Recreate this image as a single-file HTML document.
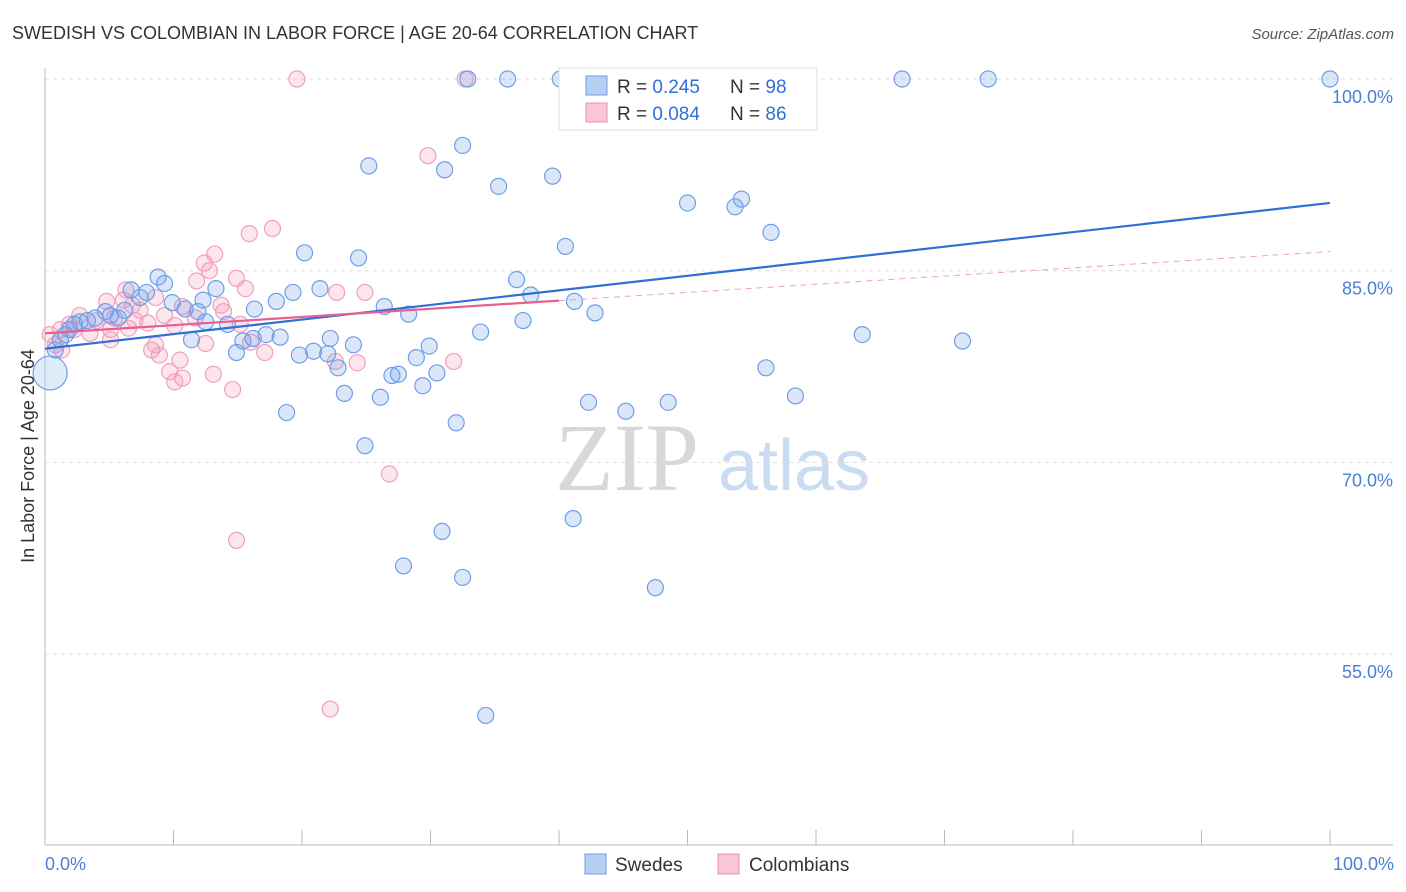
<!DOCTYPE html>
<html><head><meta charset="utf-8"><style>
body{margin:0;background:#fff;font-family:"Liberation Sans",sans-serif;}
svg{display:block}
</style></head><body>
<svg id="chart" width="1406" height="892">
<text x="12" y="39" font-size="18" fill="#333">SWEDISH VS COLOMBIAN IN LABOR FORCE | AGE 20-64 CORRELATION CHART</text>
<text x="1394" y="39" font-size="15" fill="#555" font-style="italic" text-anchor="end">Source: ZipAtlas.com</text>
<g>
<text x="555" y="490" font-size="96" font-family="Liberation Serif,serif" fill="#d8d8d8">ZIP</text>
<text x="718" y="490" font-size="72" fill="#c9dcf2">atlas</text>
</g>
<g id="grid"></g><g id="axes"></g><g id="marks"></g>
<text transform="translate(34,456) rotate(-90)" font-size="18" fill="#333" text-anchor="middle">In Labor Force | Age 20-64</text>
<text x="45" y="870" font-size="18" fill="#4a7fd4">0.0%</text>
<text x="1394" y="870" font-size="18" fill="#4a7fd4" text-anchor="end">100.0%</text>
<g>
<rect x="559" y="68" width="258" height="62" fill="#fff" stroke="#ddd"/>
<rect x="586" y="76" width="21" height="19" fill="#b7cff3" stroke="#6f9ee8"/>
<rect x="586" y="103" width="21" height="19" fill="#f9c6d6" stroke="#f08cb0"/>
<text x="617" y="93" font-size="19" fill="#333">R = <tspan fill="#2f6fd6">0.245</tspan></text>
<text x="730" y="93" font-size="19" fill="#333">N = <tspan fill="#2f6fd6">98</tspan></text>
<text x="617" y="120" font-size="19" fill="#333">R = <tspan fill="#2f6fd6">0.084</tspan></text>
<text x="730" y="120" font-size="19" fill="#333">N = <tspan fill="#2f6fd6">86</tspan></text>
</g>
<g>
<rect x="585" y="854" width="21" height="20" fill="#b7cff3" stroke="#6f9ee8"/>
<text x="615" y="871" font-size="19" fill="#333">Swedes</text>
<rect x="718" y="854" width="21" height="20" fill="#f9c6d6" stroke="#f08cb0"/>
<text x="749" y="871" font-size="19" fill="#333">Colombians</text>
</g>
</svg>
<script>
const yTicks=[100,85,70,55];
const yTickLabels=["100.0%","85.0%","70.0%","55.0%"];
const xTicks=[0,10,20,30,40,50,60,70,80,90,100];
const swedesX=[32.9,36.0,40.1,41.6,66.7,73.4,100,32.5,25.2,31.1,35.3,39.5,50.0,54.2,53.7,56.5,40.5,20.2,24.4,36.7,8.8,9.3,6.7,7.9,13.3,19.3,21.4,18.0,12.3,16.3,9.9,10.9,11.9,26.4,28.3,41.2,42.8,37.8,37.2,33.9,22.2,24.0,17.2,18.3,15.4,16.2,11.4,14.9,19.8,20.9,22.0,28.9,29.9,22.8,27.0,27.5,30.5,29.4,26.1,23.3,18.8,32.0,24.9,42.3,45.2,48.5,56.1,58.4,63.6,71.4,30.9,41.1,27.9,32.5,47.5,34.3,0.4,0.8,1.2,1.6,1.9,2.3,2.7,3.3,3.9,4.7,5.1,5.7,6.2,7.4,14.2,12.5];
const swedesY=[100,100,100,100,100,100,100,94.8,93.2,92.9,91.6,92.4,90.3,90.6,90.0,88.0,86.9,86.4,86.0,84.3,84.5,84.0,83.5,83.3,83.6,83.3,83.6,82.6,82.7,82.0,82.5,82.0,81.8,82.2,81.6,82.6,81.7,83.1,81.1,80.2,79.7,79.2,80.0,79.8,79.5,79.7,79.6,78.6,78.4,78.7,78.5,78.2,79.1,77.4,76.8,76.9,77.0,76.0,75.1,75.4,73.9,73.1,71.3,74.7,74.0,74.7,77.4,75.2,80.0,79.5,64.6,65.6,61.9,61.0,60.2,50.2,77.0,78.8,79.6,80.0,80.4,80.8,81.0,81.1,81.3,81.8,81.5,81.3,81.9,82.9,80.8,81.0];
const colX=[19.6,32.7,29.8,17.7,15.9,13.2,12.4,12.8,14.9,15.6,11.8,6.3,6.1,4.8,6.8,8.6,10.7,13.7,13.9,22.7,24.9,5.4,7.0,8.0,10.1,6.5,5.1,3.5,2.3,1.2,0.4,0.8,1.3,5.1,8.3,8.9,8.6,10.5,12.5,15.2,16.0,17.1,22.6,24.3,9.7,10.7,10.1,13.1,14.6,31.8,26.8,14.9,22.2,4.0,2.7,1.9,7.4,9.3,11.7];
const colY=[100,100,94.0,88.3,87.9,86.3,85.6,85.0,84.4,83.6,84.2,83.5,82.7,82.6,82.3,82.9,82.2,82.3,81.8,83.3,83.3,81.3,81.1,80.9,80.7,80.5,80.4,80.1,80.4,80.4,80.0,79.2,78.8,79.6,78.8,78.4,79.2,78.0,79.3,80.8,79.4,78.6,77.9,77.8,77.1,76.6,76.3,76.9,75.7,77.9,69.1,63.9,50.7,81.1,81.5,80.8,81.9,81.5,81.3];
const swedesTrend=[78.9,90.3];
const colTrend=[80.1,86.5];
const colSolidEnd=40;

const NS="http://www.w3.org/2000/svg";
function sx(v){return 45+v*12.85;}
function sy(v){return 79+(100-v)*12.78;}
function mk(tag,attrs,parent){const e=document.createElementNS(NS,tag);for(const k in attrs)e.setAttribute(k,attrs[k]);parent.appendChild(e);return e;}
const grid=document.getElementById('grid'),axes=document.getElementById('axes'),marks=document.getElementById('marks');
yTicks.forEach((t,i)=>{
  const l=mk('line',{x1:45,x2:1393,y1:sy(t),y2:sy(t),stroke:'#ddd','stroke-dasharray':'4,4'},grid);
  
  
  const tx=mk('text',{x:1393,y:sy(t)+24,'font-size':18,fill:'#4a7fd4','text-anchor':'end'},axes);
  tx.textContent=yTickLabels[i];
  
  
});
const ax=mk('line',{x1:45,x2:45,y1:68,y2:845,stroke:'#bbb'},axes);


const bx=mk('line',{x1:45,x2:1393,y1:845,y2:845,stroke:'#bbb'},axes);


xTicks.forEach(t=>{
  const l=mk('line',{x1:sx(t),x2:sx(t),y1:830,y2:845,stroke:'#bbb'},axes);
  
  
});
function pts(X,Y,fill,stroke,name){
  X.forEach((x,i)=>{
    const big=(name==='swede-point'&&i===76);
    const c=mk('circle',{cx:sx(x),cy:sy(Y[i]),r:big?17:8,fill:big?'rgba(170,200,240,0.35)':fill,stroke:stroke,'stroke-width':1.2},marks);
    
    
  });
}
pts(colX,colY,'rgba(242,150,180,0.25)','#f0a0bc','colombian-point');
pts(swedesX,swedesY,'rgba(110,160,230,0.25)','#6f9ee8','swede-point');
const bl=mk('line',{x1:sx(0),y1:sy(swedesTrend[0]),x2:sx(100),y2:sy(swedesTrend[1]),stroke:'#2f6fd6','stroke-width':2.2},marks);


const cm=colTrend[0]+(colTrend[1]-colTrend[0])*colSolidEnd/100;
const pl=mk('line',{x1:sx(0),y1:sy(colTrend[0]),x2:sx(colSolidEnd),y2:sy(cm),stroke:'#e8608f','stroke-width':2.2},marks);


const pd=mk('line',{x1:sx(colSolidEnd),y1:sy(cm),x2:sx(100),y2:sy(colTrend[1]),stroke:'#f0a0bc','stroke-width':1,'stroke-dasharray':'6,5'},marks);


</script>
</body></html>
